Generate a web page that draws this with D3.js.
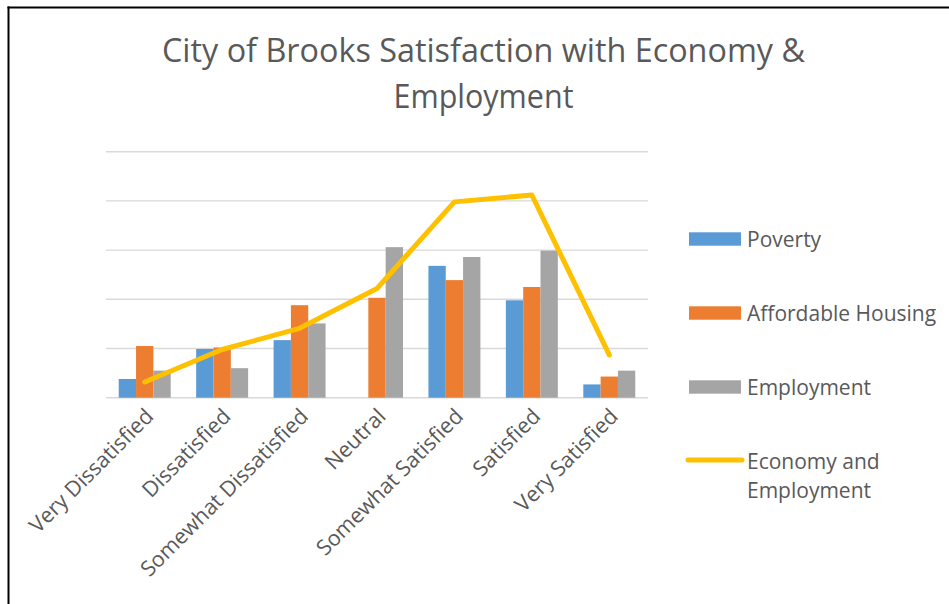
<!DOCTYPE html>
<html>
<head>
<meta charset="utf-8">
<script src="https://cdn.jsdelivr.net/npm/d3@7"></script>
<style>
  html, body { margin: 0; padding: 0; background: #fff; }
  svg { display: block; }
  text { font-family: "Open Sans", "Noto Sans", sans-serif; fill: #595959; }
</style>
</head>
<body>
<svg id="chart" width="949" height="604"></svg>
<script>
// Survey responses by satisfaction level
const categories = ["Very Dissatisfied", "Dissatisfied", "Somewhat Dissatisfied", "Neutral",
                    "Somewhat Satisfied", "Satisfied", "Very Satisfied"];
const poverty          = [1.9, 4.95, 5.85, 0, 13.4, 9.9, 1.35];
const affordableHousing = [5.25, 5.1, 9.4, 10.15, 11.95, 11.25, 2.15];
const employment       = [2.75, 3.0, 7.55, 15.3, 14.3, 14.95, 2.75];
const economyAndEmployment = [1.6, 4.9, 7.05, 11.1, 19.9, 20.6, 4.35];
const yTicks = [0, 5, 10, 15, 20, 25];

const barSeries = [
  { name: "Poverty", values: poverty, color: "#5B9BD5" },
  { name: "Affordable Housing", values: affordableHousing, color: "#ED7D31" },
  { name: "Employment", values: employment, color: "#A5A5A5" }
];
const lineSeries = { name: ["Economy and", "Employment"], values: economyAndEmployment, color: "#FFC000" };

const svg = d3.select("#chart");

// chart frame (top and left edges)
svg.append("line").attr("x1", 8.5).attr("x2", 8.5).attr("y1", 6.5).attr("y2", 604)
  .attr("stroke", "#000").attr("stroke-width", 2);
svg.append("line").attr("x1", 7.5).attr("x2", 949).attr("y1", 7.5).attr("y2", 7.5)
  .attr("stroke", "#000").attr("stroke-width", 2);

// title
const title = svg.append("text").attr("text-anchor", "middle").attr("font-size", 32);
title.append("tspan").attr("x", 483.5).attr("y", 62.3)
  .attr("textLength", 643).attr("lengthAdjust", "spacingAndGlyphs")
  .text("City of Brooks Satisfaction with Economy &");
title.append("tspan").attr("x", 483.5).attr("y", 107.7)
  .attr("textLength", 180).attr("lengthAdjust", "spacingAndGlyphs")
  .text("Employment");

const plot = { left: 106, right: 648, top: 151.7, bottom: 397.7 };

const x = d3.scaleBand().domain(categories).range([plot.left, plot.right]).paddingInner(0).paddingOuter(0);
const x1 = d3.scaleBand().domain(barSeries.map(s => s.name))
  .range([0, x.bandwidth()]).paddingInner(0).paddingOuter(0.735);
const y = d3.scaleLinear().domain([0, 25]).range([plot.bottom, plot.top]);

// gridlines
svg.append("g").selectAll("line").data(yTicks).join("line")
  .attr("x1", plot.left).attr("x2", plot.right)
  .attr("y1", d => y(d)).attr("y2", d => y(d))
  .attr("stroke", "#d9d9d9").attr("stroke-width", 1.4);

// bars
const groups = svg.append("g").selectAll("g").data(categories).join("g")
  .attr("transform", d => `translate(${x(d)},0)`);
groups.selectAll("rect")
  .data((c, i) => barSeries.map(s => ({ s, v: s.values[i] })))
  .join("rect")
  .attr("x", d => x1(d.s.name))
  .attr("width", x1.bandwidth())
  .attr("y", d => y(d.v))
  .attr("height", d => y(0) - y(d.v))
  .attr("fill", d => d.s.color);

// line series
const line = d3.line()
  .x((d, i) => x(categories[i]) + x.bandwidth() / 2)
  .y(d => y(d));
svg.append("path").datum(lineSeries.values)
  .attr("d", line)
  .attr("fill", "none")
  .attr("stroke", lineSeries.color)
  .attr("stroke-width", 5)
  .attr("stroke-linejoin", "round")
  .attr("stroke-linecap", "round");

// category axis labels
const xAxis = d3.axisBottom(x).tickSize(0).tickPadding(0);
const xg = svg.append("g").attr("transform", `translate(0,${plot.bottom})`).call(xAxis);
xg.select(".domain").remove();
xg.selectAll(".tick text")
  .attr("font-size", 21.5)
  .attr("fill", "#595959")
  .attr("font-family", "\"Open Sans\", sans-serif")
  .attr("text-anchor", "end")
  .attr("dy", null)
  .attr("y", 0)
  .attr("transform", "translate(10,20) rotate(-45)");

// legend
const legend = svg.append("g").attr("font-size", 21);
const legendRows = [239, 313, 387];
barSeries.forEach((s, i) => {
  legend.append("rect").attr("x", 689).attr("y", legendRows[i] - 6.7)
    .attr("width", 52).attr("height", 13.4).attr("fill", s.color);
  legend.append("text").attr("x", 747).attr("y", legendRows[i] + 7.8).text(s.name);
});
legend.append("line").attr("x1", 688).attr("x2", 742).attr("y1", 460).attr("y2", 460)
  .attr("stroke", lineSeries.color).attr("stroke-width", 5).attr("stroke-linecap", "round");
const lt = legend.append("text");
lt.append("tspan").attr("x", 747).attr("y", 469.3).text(lineSeries.name[0]);
lt.append("tspan").attr("x", 747).attr("y", 498).text(lineSeries.name[1]);
</script>
</body>
</html>
